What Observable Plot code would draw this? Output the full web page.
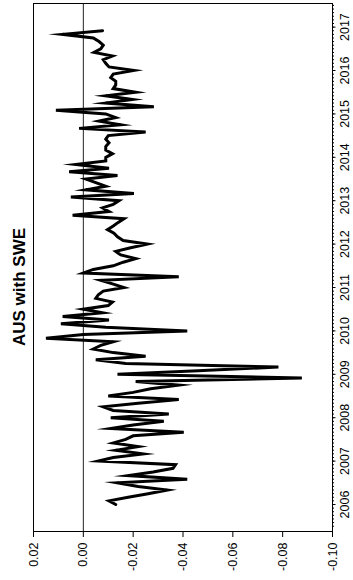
<!DOCTYPE html>
<html>
<head>
<meta charset="utf-8">
<script src="https://cdn.jsdelivr.net/npm/d3@7"></script>
<script src="https://cdn.jsdelivr.net/npm/@observablehq/plot@0.6"></script>
<style>
  html, body { margin: 0; padding: 0; background: white; }
  #page { position: relative; width: 353px; height: 580px; overflow: hidden; background: white; }
  #wrap { position: absolute; left: 0; top: 0; width: 580px; height: 353px;
          transform-origin: 0 0; transform: translate(0px, 580px) rotate(-90deg); background: white; }
  #title { position: absolute; left: 0; width: 586px; top: 11px; text-align: center; z-index: 2;
           font-family: "Liberation Sans", Arial, sans-serif; font-weight: bold; font-size: 17px; line-height: 17px; }
  #chart { position: absolute; left: 0; top: 0; z-index: 1; }
</style>
</head>
<body>
<div id="page"><div id="wrap"><div id="chart"></div><div id="title"></div></div></div>
<script>
const title = "AUS with SWE";
const startYear = 2006;            // first monthly observation: Jan 2006
const yearTicks = [2006, 2007, 2008, 2009, 2010, 2011, 2012, 2013, 2014, 2015, 2016, 2017];
const valueTicks = [0.02, 0.00, -0.02, -0.04, -0.06, -0.08, -0.10];
// monthly values, Jan 2006 .. Dec 2010
const values2006_2010 = [
  -0.013, -0.0103, -0.018, -0.026, -0.0337, -0.022, -0.0137, -0.0417, -0.018, -0.028, -0.036, -0.037,
  -0.006, -0.012, -0.024, -0.013, -0.022, -0.012, -0.017, -0.020, -0.0403, -0.011, -0.020, -0.0323,
  -0.011, -0.0343, -0.012, -0.008, -0.022, -0.0383, -0.010, -0.020, -0.027, -0.0383, -0.021, -0.0877,
  -0.0137, -0.046, -0.0783, -0.017, -0.005, -0.025, -0.012, -0.004, -0.007, -0.012, 0.015, 0.000,
  -0.0417, -0.009, 0.009, -0.0103, 0.0083, -0.0077, 0.000, -0.010, -0.0117, -0.005, -0.006, -0.008
];
// monthly values, Jan 2011 .. Dec 2016
const values2011_2016 = [
  -0.0163, -0.0117, -0.007, -0.0383, 0.000, -0.004, -0.012, -0.016, -0.021, -0.015, -0.013, -0.019,
  -0.0257, -0.016, -0.0137, -0.0123, -0.0097, -0.012, -0.014, -0.0163, 0.0043, -0.0103, -0.0077, -0.012,
  -0.0143, 0.005, -0.0203, -0.001, -0.009, -0.005, -0.001, -0.0137, 0.0057, -0.0103, 0.003, -0.009,
  -0.009, -0.0117, -0.009, -0.009, -0.0103, -0.009, -0.010, -0.025, 0.0017, -0.015, -0.0063, -0.013,
  -0.009, 0.011, -0.0283, -0.009, -0.0197, -0.009, -0.021, -0.012, -0.013, -0.013, -0.011, -0.012,
  -0.0203, -0.0103, -0.009, -0.008, -0.0117, -0.0043, -0.007, -0.008, -0.0063, -0.004, 0.0083, -0.0077
];
const values = values2006_2010.concat(values2011_2016);
const data = values.map((v, i) => ({t: startYear + i / 12, v}));
const monthTicks = d3.range(startYear * 12 - 6, 2017 * 12 + 7).map(m => m / 12);

document.getElementById("title").textContent = title;

const chart = Plot.plot({
  width: 580,
  height: 353,
  marginLeft: 48,
  marginRight: 4,
  marginTop: 33,
  marginBottom: 21,
  style: {fontFamily: "'Liberation Sans', Arial, sans-serif", fontSize: "12.5px", color: "black", background: "transparent"},
  x: {domain: [2005.378, 2017.544]},
  y: {domain: [-0.10, 0.02]},
  marks: [
    Plot.ruleY([0], {stroke: "#222", strokeWidth: 1}),
    Plot.line(data, {x: "t", y: "v", stroke: "black", strokeWidth: 3, strokeLinejoin: "miter", strokeMiterlimit: 10}),
    Plot.frame({stroke: "black", strokeWidth: 1}),
    Plot.axisX(monthTicks, {tickSize: 2, tickFormat: () => "", label: null}),
    Plot.axisX(yearTicks, {tickSize: 3.5, tickPadding: 4.5, tickFormat: d => String(d), label: null}),
    Plot.axisY(valueTicks, {tickSize: 5, tickPadding: 6, tickFormat: d => d.toFixed(2), label: null})
  ]
});
document.getElementById("chart").appendChild(chart);
</script>
</body>
</html>
